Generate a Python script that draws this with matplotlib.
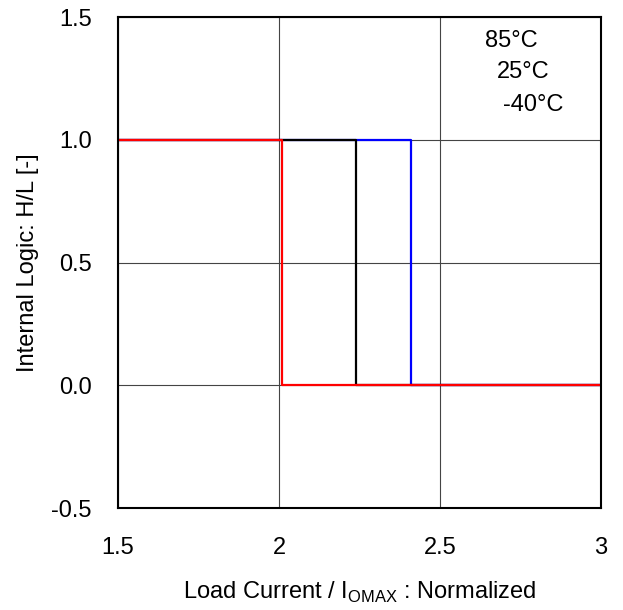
import numpy as np
import matplotlib.pyplot as plt

plt.rcParams['font.family'] = ['Liberation Sans', 'DejaVu Sans']

# trip points of the internal logic (H -> L) per temperature
temps = ['85°C', '25°C', '-40°C']
trip = [2.01, 2.24, 2.41]
colors = ['red', 'black', 'blue']
x_start, x_end = 1.5, 3.0
high, low = 1.0, 0.0

fig = plt.figure(figsize=(6.23, 6.10), dpi=100)
ax = fig.add_axes([0.1894, 0.1672, 0.7753, 0.8048])

# draw blue first, red last (red on top)
for t, c in list(zip(trip, colors))[::-1]:
    xs = [x_start, t, t, x_end]
    ys = [high, high, low, low]
    ax.plot(xs, ys, color=c, lw=1.6)

ax.set_xlim(1.5, 3.0)
ax.set_ylim(-0.5, 1.5)
ax.set_xticks([1.5, 2, 2.5, 3])
ax.set_xticklabels(['1.5', '2', '2.5', '3'])
ax.set_yticks([-0.5, 0.0, 0.5, 1.0, 1.5])
ax.set_yticklabels(['-0.5', '0.0', '0.5', '1.0', '1.5'])
fs = 17
ax.tick_params(axis='x', length=0, labelsize=fs, pad=21)
ax.tick_params(axis='y', length=0, labelsize=fs, pad=19)
ax.grid(True, color='#444444', lw=0.8)
for s in ax.spines.values():
    s.set_linewidth(1.5)

ax.set_xlabel('Load Current / I$_{\\mathregular{OMAX}}$ : Normalized', fontsize=fs, labelpad=15)
ax.set_ylabel('Internal Logic: H/L [-]', fontsize=fs, labelpad=9)

# staggered legend text
leg_x = [2.640, 2.677, 2.696]
leg_y = [1.378, 1.252, 1.118]
for lab, lx, ly in zip(temps, leg_x, leg_y):
    ax.text(lx, ly, lab, fontsize=fs, va='baseline', ha='left')

fig.savefig('out.png', dpi=100)
